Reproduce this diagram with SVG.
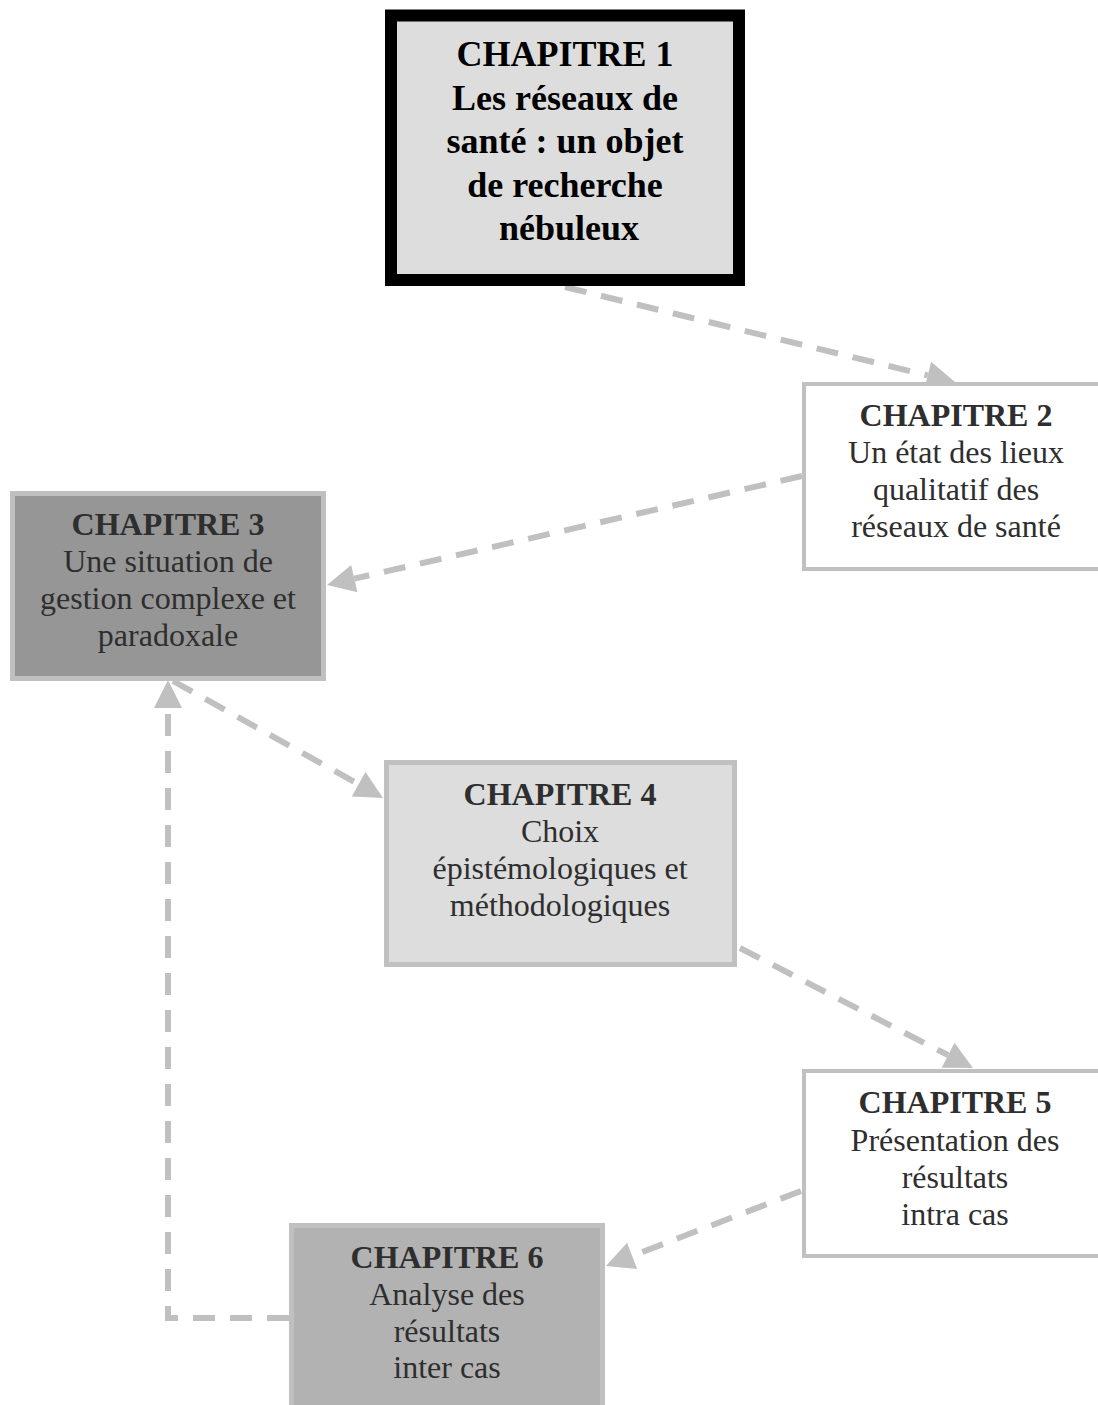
<svg xmlns="http://www.w3.org/2000/svg" width="1098" height="1405" viewBox="0 0 1098 1405">
<defs>
<style>
.t{font-family:"Liberation Serif","Times New Roman",serif;text-anchor:middle;fill:#2e2e2e;font-size:32px}
.b{font-weight:bold}
.t1{font-family:"Liberation Serif","Times New Roman",serif;text-anchor:middle;fill:#000;font-size:36px;font-weight:bold}
.c{fill:none;stroke:#c0c0c0;stroke-width:6;stroke-dasharray:22 15}
.box{stroke:#c0c0c0}
</style>
<marker id="ah" markerUnits="userSpaceOnUse" markerWidth="28" markerHeight="28" refX="0" refY="14" orient="auto" overflow="visible">
<path d="M0,0 L28,14 L0,28 Z" fill="#c0c0c0"/>
</marker>
</defs>
<rect width="1098" height="1405" fill="#fff"/>
<g id="connectors">
<line class="c" x1="565" y1="287" x2="927.8" y2="375.4" marker-end="url(#ah)"/>
<line class="c" x1="802" y1="476" x2="354.3" y2="578.7" marker-end="url(#ah)"/>
<line class="c" x1="173" y1="681" x2="358.6" y2="784.3" marker-end="url(#ah)"/>
<line class="c" x1="740" y1="948" x2="948.1" y2="1055.2" marker-end="url(#ah)"/>
<line class="c" x1="801" y1="1191" x2="632.1" y2="1255.9" marker-end="url(#ah)"/>
<path class="c" d="M289,1318 H168 V708" marker-end="url(#ah)"/>
</g>
<g id="chapitre1">
<rect x="391" y="15.5" width="348" height="264.5" fill="#dddddd" stroke="#000" stroke-width="12"/>
<text class="t1" x="565" y="66">CHAPITRE 1</text>
<text class="t1" x="565" y="109.5">Les réseaux de</text>
<text class="t1" x="565" y="153">santé : un objet</text>
<text class="t1" x="565" y="196.5">de recherche</text>
<text class="t1" x="569" y="240">nébuleux</text>
</g>
<g id="chapitre2">
<rect class="box" x="804" y="384" width="310" height="185" fill="#fff" stroke-width="4"/>
<text class="t b" x="956" y="426">CHAPITRE 2</text>
<text class="t" x="956" y="463">Un état des lieux</text>
<text class="t" x="956" y="500">qualitatif des</text>
<text class="t" x="956" y="537">réseaux de santé</text>
</g>
<g id="chapitre3">
<rect class="box" x="12.5" y="493.5" width="311" height="185" fill="#969696" stroke-width="5"/>
<text class="t b" x="168" y="535">CHAPITRE 3</text>
<text class="t" x="168" y="572">Une situation de</text>
<text class="t" x="168" y="609">gestion complexe et</text>
<text class="t" x="168" y="646">paradoxale</text>
</g>
<g id="chapitre4">
<rect class="box" x="386.5" y="762.5" width="348" height="202" fill="#dddddd" stroke-width="5"/>
<text class="t b" x="560" y="805">CHAPITRE 4</text>
<text class="t" x="560" y="842">Choix</text>
<text class="t" x="560" y="879">épistémologiques et</text>
<text class="t" x="560" y="916">méthodologiques</text>
</g>
<g id="chapitre5">
<rect class="box" x="804" y="1071" width="310" height="185" fill="#fff" stroke-width="4"/>
<text class="t b" x="955" y="1113">CHAPITRE 5</text>
<text class="t" x="955" y="1151">Présentation des</text>
<text class="t" x="955" y="1188">résultats</text>
<text class="t" x="955" y="1225">intra cas</text>
</g>
<g id="chapitre6">
<rect class="box" x="291.5" y="1225.5" width="311" height="200" fill="#b2b2b2" stroke-width="5"/>
<text class="t b" x="447" y="1268">CHAPITRE 6</text>
<text class="t" x="447" y="1305">Analyse des</text>
<text class="t" x="447" y="1342">résultats</text>
<text class="t" x="447" y="1378">inter cas</text>
</g>
</svg>
